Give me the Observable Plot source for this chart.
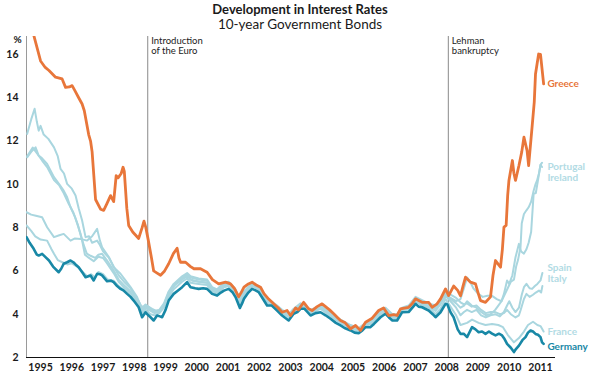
<!DOCTYPE html>
<html>
<head>
<meta charset="utf-8">
<script src="https://cdn.jsdelivr.net/npm/d3@7"></script>
<script src="https://cdn.jsdelivr.net/npm/@observablehq/plot@0.6"></script>
<style>
  html, body { margin: 0; padding: 0; background: #fff; }
  #wrap { width: 600px; font-family: Lato, "Open Sans", sans-serif; color: #1a1a1a; }
  #titles { height: 28px; position: relative; text-align: center; overflow: visible; }
  #title { position: absolute; left: 0; right: 0; top: 2px; font-size: 13px; font-weight: 700; line-height: 15px; }
  #subtitle { position: absolute; left: 0; right: 0; top: 17px; font-size: 13.5px; font-weight: 400; line-height: 14px; }
</style>
</head>
<body>
<div id="wrap">
  <div id="titles">
    <div id="title">Development in Interest Rates</div>
    <div id="subtitle">10-year Government Bonds</div>
  </div>
  <div id="chart"></div>
</div>
<script>
// ---- data (decimal year, percent) ----
const greece = [[1995.28,16.9],[1995.50,15.7],[1995.65,15.4],[1995.77,15.26],[1995.98,14.95],[1996.19,14.87],[1996.30,14.48],[1996.42,14.5],[1996.51,14.56],[1996.59,14.35],[1996.72,14.0],[1996.83,13.71],[1996.90,13.4],[1997.04,12.3],[1997.10,12.0],[1997.15,11.5],[1997.26,9.3],[1997.42,8.85],[1997.52,8.8],[1997.62,9.1],[1997.74,9.48],[1997.84,9.2],[1997.92,10.4],[1997.98,10.3],[1998.08,10.5],[1998.14,10.79],[1998.18,10.6],[1998.26,8.9],[1998.32,8.1],[1998.45,7.8],[1998.64,7.5],[1998.75,8.0],[1998.81,8.3],[1998.87,8.0],[1998.95,7.4],[1999.05,6.6],[1999.12,6.0],[1999.23,5.9],[1999.34,5.8],[1999.47,6.0],[1999.60,6.33],[1999.75,6.8],[1999.87,7.05],[1999.93,6.6],[1999.98,6.4],[2000.14,6.4],[2000.30,6.2],[2000.41,6.1],[2000.62,6.1],[2000.75,6.0],[2000.83,5.94],[2001.0,5.6],[2001.20,5.40],[2001.42,5.48],[2001.58,5.40],[2001.70,5.2],[2001.84,4.8],[2001.92,5.0],[2002.01,5.25],[2002.15,5.4],[2002.27,5.48],[2002.40,5.35],[2002.54,5.25],[2002.65,4.95],[2002.80,4.7],[2002.96,4.48],[2003.10,4.3],[2003.23,4.09],[2003.39,4.17],[2003.50,3.94],[2003.60,4.15],[2003.66,4.29],[2003.75,4.2],[2003.92,4.55],[2004.08,4.25],[2004.19,4.17],[2004.35,4.35],[2004.51,4.48],[2004.62,4.35],[2004.75,4.2],[2004.89,4.01],[2005.0,3.85],[2005.10,3.71],[2005.25,3.6],[2005.42,3.33],[2005.58,3.48],[2005.74,3.25],[2005.90,3.63],[2006.10,3.8],[2006.32,4.17],[2006.48,4.29],[2006.64,3.94],[2006.80,3.98],[2006.91,3.94],[2007.02,4.25],[2007.28,4.32],[2007.40,4.5],[2007.50,4.71],[2007.71,4.55],[2007.92,4.55],[2008.03,4.32],[2008.19,4.48],[2008.30,4.71],[2008.46,5.17],[2008.56,4.86],[2008.72,5.30],[2008.85,5.1],[2008.94,4.85],[2009.02,5.3],[2009.10,5.71],[2009.26,5.48],[2009.42,5.40],[2009.50,5.0],[2009.58,4.63],[2009.74,4.55],[2009.90,4.8],[2009.98,5.8],[2010.06,6.48],[2010.15,6.3],[2010.22,6.17],[2010.28,7.0],[2010.33,8.02],[2010.40,8.1],[2010.45,9.5],[2010.49,10.18],[2010.60,11.1],[2010.65,10.5],[2010.70,10.18],[2010.81,10.87],[2010.90,11.5],[2010.97,12.18],[2011.07,11.56],[2011.12,10.87],[2011.23,12.64],[2011.30,13.8],[2011.34,15.1],[2011.44,16.02],[2011.50,16.0],[2011.60,14.64]];

const germany = [[1995.05,7.56],[1995.15,7.3],[1995.28,7.02],[1995.38,6.75],[1995.44,6.71],[1995.55,6.79],[1995.65,6.65],[1995.77,6.48],[1995.90,6.2],[1996.08,5.94],[1996.16,6.1],[1996.24,6.33],[1996.35,6.4],[1996.46,6.48],[1996.55,6.4],[1996.62,6.3],[1996.72,6.17],[1996.85,5.9],[1996.94,5.71],[1997.10,5.79],[1997.20,5.56],[1997.31,5.87],[1997.40,5.85],[1997.47,5.79],[1997.63,5.52],[1997.75,5.55],[1997.84,5.48],[1997.95,5.3],[1998.06,5.17],[1998.15,5.1],[1998.27,4.94],[1998.38,4.8],[1998.48,4.63],[1998.64,4.32],[1998.75,3.86],[1998.86,4.09],[1998.95,3.95],[1999.02,3.86],[1999.12,3.71],[1999.23,3.94],[1999.32,3.9],[1999.39,3.86],[1999.50,4.2],[1999.60,4.63],[1999.76,4.94],[1999.90,5.1],[2000.03,5.25],[2000.19,5.48],[2000.30,5.25],[2000.45,5.2],[2000.56,5.17],[2000.70,5.2],[2000.83,5.17],[2000.99,4.94],[2001.15,4.86],[2001.27,5.0],[2001.37,5.09],[2001.52,5.17],[2001.65,5.0],[2001.74,4.79],[2001.88,4.29],[2001.95,4.5],[2002.01,4.71],[2002.15,5.0],[2002.27,5.17],[2002.38,5.1],[2002.48,5.02],[2002.60,4.75],[2002.75,4.40],[2002.90,4.4],[2003.07,4.17],[2003.23,3.94],[2003.44,3.71],[2003.60,4.02],[2003.72,4.1],[2003.82,4.25],[2003.95,4.25],[2004.14,3.94],[2004.30,4.05],[2004.46,4.09],[2004.62,3.95],[2004.78,3.79],[2004.95,3.6],[2005.10,3.48],[2005.25,3.35],[2005.42,3.25],[2005.55,3.15],[2005.68,3.12],[2005.80,3.25],[2005.90,3.40],[2006.05,3.4],[2006.17,3.55],[2006.38,3.86],[2006.54,4.02],[2006.65,3.85],[2006.76,3.71],[2006.91,3.71],[2007.07,4.09],[2007.28,4.1],[2007.40,4.3],[2007.50,4.48],[2007.60,4.35],[2007.71,4.32],[2007.92,4.17],[2008.05,4.0],[2008.14,3.86],[2008.30,4.09],[2008.46,4.48],[2008.52,4.45],[2008.62,4.09],[2008.72,3.86],[2008.85,3.3],[2008.94,3.09],[2009.04,3.1],[2009.15,2.94],[2009.31,3.40],[2009.42,3.3],[2009.52,3.17],[2009.63,3.2],[2009.74,3.09],[2009.85,3.2],[2009.95,3.1],[2010.06,3.02],[2010.17,3.1],[2010.27,3.02],[2010.35,2.85],[2010.43,2.63],[2010.55,2.45],[2010.65,2.25],[2010.72,2.4],[2010.81,2.55],[2010.92,2.8],[2011.02,2.94],[2011.10,3.15],[2011.18,3.25],[2011.26,3.2],[2011.34,3.09],[2011.42,3.05],[2011.50,2.94],[2011.55,2.7],[2011.60,2.63]];

const france = [[1995.05,8.10],[1995.20,7.85],[1995.33,7.6],[1995.50,7.45],[1995.71,7.40],[1995.85,7.0],[1995.93,6.79],[1996.05,6.5],[1996.20,6.4],[1996.35,6.3],[1996.50,6.35],[1996.67,6.2],[1996.85,5.95],[1996.99,5.75],[1997.12,5.85],[1997.25,5.7],[1997.35,5.95],[1997.50,5.85],[1997.65,5.6],[1997.84,5.55],[1998.0,5.3],[1998.15,5.15],[1998.30,5.0],[1998.48,4.8],[1998.64,4.5],[1998.75,4.05],[1998.86,4.2],[1999.02,4.0],[1999.15,3.95],[1999.30,4.05],[1999.45,4.3],[1999.60,4.8],[1999.76,5.15],[2000.03,5.5],[2000.19,5.65],[2000.30,5.45],[2000.56,5.4],[2000.83,5.35],[2000.99,5.05],[2001.15,4.95],[2001.37,5.25],[2001.52,5.3],[2001.74,4.95],[2001.88,4.45],[2002.01,4.85],[2002.27,5.3],[2002.48,5.15],[2002.75,4.55],[2003.07,4.25],[2003.23,4.05],[2003.44,3.85],[2003.60,4.1],[2003.82,4.35],[2004.14,4.05],[2004.46,4.25],[2004.78,3.9],[2005.10,3.6],[2005.42,3.35],[2005.68,3.2],[2005.90,3.45],[2006.17,3.6],[2006.38,3.95],[2006.54,4.1],[2006.76,3.8],[2006.91,3.8],[2007.07,4.15],[2007.28,4.2],[2007.50,4.6],[2007.71,4.4],[2007.92,4.3],[2008.14,4.0],[2008.30,4.25],[2008.46,4.7],[2008.62,4.35],[2008.80,3.95],[2008.94,3.5],[2009.15,3.6],[2009.31,3.75],[2009.52,3.6],[2009.74,3.5],[2009.95,3.55],[2010.15,3.5],[2010.30,3.4],[2010.45,3.05],[2010.65,2.7],[2010.81,2.9],[2010.97,3.2],[2011.10,3.5],[2011.26,3.65],[2011.40,3.5],[2011.50,3.45],[2011.60,3.2]];

const ireland = [[1995.05,8.71],[1995.20,8.6],[1995.35,8.55],[1995.55,8.48],[1995.71,8.02],[1995.93,7.56],[1996.10,7.65],[1996.24,7.71],[1996.46,7.40],[1996.60,7.5],[1996.78,7.48],[1996.99,7.40],[1997.15,7.6],[1997.31,7.94],[1997.40,7.4],[1997.47,7.09],[1997.69,6.63],[1997.84,6.17],[1998.06,5.87],[1998.20,5.6],[1998.38,5.25],[1998.59,4.79],[1998.70,4.4],[1998.80,4.32],[1998.90,4.4],[1999.07,4.25],[1999.20,4.15],[1999.35,4.2],[1999.50,4.55],[1999.65,5.05],[1999.80,5.35],[2000.03,5.6],[2000.19,5.75],[2000.35,5.55],[2000.60,5.5],[2000.83,5.45],[2000.99,5.1],[2001.15,5.0],[2001.37,5.3],[2001.52,5.35],[2001.74,5.0],[2001.88,4.5],[2002.01,4.95],[2002.27,5.35],[2002.48,5.2],[2002.75,4.6],[2003.07,4.3],[2003.23,4.1],[2003.44,3.9],[2003.60,4.15],[2003.82,4.4],[2004.14,4.1],[2004.46,4.3],[2004.78,3.95],[2005.10,3.65],[2005.42,3.35],[2005.68,3.25],[2005.90,3.5],[2006.17,3.65],[2006.38,4.0],[2006.54,4.15],[2006.76,3.85],[2006.91,3.85],[2007.07,4.2],[2007.28,4.25],[2007.50,4.65],[2007.71,4.5],[2007.92,4.4],[2008.14,4.25],[2008.30,4.55],[2008.46,4.95],[2008.62,4.75],[2008.80,4.6],[2008.94,4.7],[2009.05,5.2],[2009.15,5.7],[2009.25,5.5],[2009.35,5.2],[2009.50,4.95],[2009.65,4.8],[2009.80,4.85],[2009.95,4.85],[2010.10,4.7],[2010.25,4.6],[2010.35,4.9],[2010.45,5.2],[2010.55,5.5],[2010.65,5.6],[2010.72,6.2],[2010.78,6.5],[2010.86,7.1],[2010.90,8.2],[2010.97,8.63],[2011.05,8.8],[2011.12,8.94],[2011.20,9.2],[2011.28,9.7],[2011.34,10.0],[2011.39,10.18],[2011.45,10.5],[2011.50,10.9],[2011.55,11.0]];

const portugal = [[1995.07,11.25],[1995.20,11.5],[1995.34,11.71],[1995.44,11.33],[1995.55,11.2],[1995.71,10.94],[1995.93,10.33],[1996.10,10.0],[1996.24,9.71],[1996.35,9.4],[1996.46,8.94],[1996.60,8.5],[1996.78,7.71],[1996.88,7.2],[1996.98,6.8],[1997.10,6.7],[1997.25,6.6],[1997.35,6.75],[1997.47,6.79],[1997.63,6.48],[1997.84,6.02],[1998.0,5.6],[1998.20,5.3],[1998.35,5.1],[1998.48,4.75],[1998.64,4.5],[1998.75,4.2],[1998.86,4.35],[1999.02,4.2],[1999.15,4.1],[1999.30,4.15],[1999.45,4.45],[1999.60,5.0],[1999.76,5.35],[2000.03,5.7],[2000.19,5.85],[2000.30,5.7],[2000.56,5.6],[2000.83,5.55],[2000.99,5.2],[2001.15,5.1],[2001.37,5.4],[2001.52,5.45],[2001.74,5.1],[2001.88,4.65],[2002.01,5.0],[2002.27,5.4],[2002.48,5.25],[2002.75,4.7],[2003.07,4.35],[2003.23,4.15],[2003.44,3.95],[2003.60,4.2],[2003.82,4.45],[2004.14,4.15],[2004.46,4.35],[2004.78,4.0],[2005.10,3.7],[2005.42,3.45],[2005.68,3.3],[2005.90,3.55],[2006.17,3.7],[2006.38,4.1],[2006.54,4.2],[2006.76,3.9],[2006.91,3.9],[2007.07,4.25],[2007.28,4.3],[2007.50,4.7],[2007.71,4.55],[2007.92,4.45],[2008.14,4.3],[2008.30,4.6],[2008.46,5.0],[2008.62,4.7],[2008.80,4.5],[2008.94,4.3],[2009.05,4.4],[2009.15,4.6],[2009.30,4.4],[2009.45,4.3],[2009.60,4.1],[2009.75,3.95],[2009.90,4.0],[2010.05,4.2],[2010.15,4.4],[2010.25,4.6],[2010.33,4.94],[2010.43,5.56],[2010.50,5.4],[2010.60,5.8],[2010.70,6.63],[2010.81,7.25],[2010.88,6.9],[2010.97,6.8],[2011.05,7.0],[2011.12,7.3],[2011.20,7.8],[2011.28,9.56],[2011.35,9.6],[2011.42,10.2],[2011.50,10.9],[2011.55,10.8]];

const spain = [[1995.07,11.3],[1995.25,11.7],[1995.40,11.4],[1995.55,11.1],[1995.71,10.8],[1995.93,10.2],[1996.10,9.95],[1996.24,9.6],[1996.40,9.1],[1996.55,8.7],[1996.70,8.1],[1996.83,7.4],[1996.92,6.75],[1997.05,6.6],[1997.20,6.45],[1997.35,6.65],[1997.50,6.6],[1997.63,6.35],[1997.84,5.9],[1998.0,5.5],[1998.20,5.2],[1998.38,5.0],[1998.48,4.7],[1998.64,4.45],[1998.75,4.15],[1998.86,4.3],[1999.02,4.15],[1999.15,4.05],[1999.30,4.1],[1999.45,4.4],[1999.60,4.95],[1999.76,5.3],[2000.03,5.65],[2000.19,5.8],[2000.30,5.6],[2000.56,5.5],[2000.83,5.45],[2000.99,5.15],[2001.15,5.05],[2001.37,5.35],[2001.52,5.4],[2001.74,5.05],[2001.88,4.6],[2002.01,4.95],[2002.27,5.35],[2002.48,5.2],[2002.75,4.65],[2003.07,4.3],[2003.23,4.1],[2003.44,3.9],[2003.60,4.15],[2003.82,4.4],[2004.14,4.1],[2004.46,4.3],[2004.78,3.95],[2005.10,3.65],[2005.42,3.35],[2005.68,3.2],[2005.90,3.5],[2006.17,3.65],[2006.38,4.0],[2006.54,4.15],[2006.76,3.85],[2006.91,3.85],[2007.07,4.2],[2007.28,4.25],[2007.50,4.65],[2007.71,4.45],[2007.92,4.35],[2008.14,4.15],[2008.30,4.45],[2008.46,4.85],[2008.62,4.6],[2008.80,4.3],[2008.94,3.95],[2009.05,4.1],[2009.15,4.2],[2009.30,4.1],[2009.45,4.2],[2009.60,3.95],[2009.75,3.85],[2009.90,3.95],[2010.05,4.0],[2010.20,3.9],[2010.33,4.1],[2010.43,4.4],[2010.50,4.6],[2010.60,4.3],[2010.70,4.1],[2010.81,4.3],[2010.90,4.9],[2010.97,5.25],[2011.05,5.4],[2011.15,5.2],[2011.23,5.17],[2011.32,5.3],[2011.40,5.4],[2011.50,5.56],[2011.56,5.9]];

const italy = [[1995.07,12.33],[1995.20,13.0],[1995.31,13.49],[1995.38,12.9],[1995.44,12.48],[1995.50,12.7],[1995.60,12.3],[1995.75,12.1],[1995.93,11.71],[1996.05,11.3],[1996.14,10.71],[1996.25,10.5],[1996.35,10.02],[1996.50,9.8],[1996.62,9.48],[1996.72,8.9],[1996.83,8.33],[1996.94,7.56],[1997.05,7.6],[1997.15,7.3],[1997.31,7.4],[1997.40,7.2],[1997.50,6.9],[1997.69,6.6],[1997.84,6.2],[1998.0,5.8],[1998.20,5.45],[1998.38,5.2],[1998.50,4.85],[1998.64,4.6],[1998.75,4.3],[1998.86,4.45],[1999.02,4.25],[1999.15,4.15],[1999.30,4.2],[1999.45,4.5],[1999.60,5.05],[1999.76,5.4],[2000.03,5.75],[2000.19,5.9],[2000.30,5.75],[2000.56,5.65],[2000.83,5.6],[2000.99,5.25],[2001.15,5.15],[2001.37,5.45],[2001.52,5.5],[2001.74,5.15],[2001.88,4.7],[2002.01,5.05],[2002.27,5.45],[2002.48,5.3],[2002.75,4.75],[2003.07,4.4],[2003.23,4.2],[2003.44,4.0],[2003.60,4.25],[2003.82,4.5],[2004.14,4.2],[2004.46,4.4],[2004.78,4.05],[2005.10,3.75],[2005.42,3.5],[2005.68,3.35],[2005.90,3.6],[2006.17,3.8],[2006.38,4.2],[2006.54,4.3],[2006.76,4.0],[2006.91,4.0],[2007.07,4.3],[2007.28,4.4],[2007.50,4.8],[2007.71,4.65],[2007.92,4.5],[2008.14,4.4],[2008.30,4.7],[2008.46,5.05],[2008.62,4.9],[2008.80,4.75],[2008.94,4.55],[2009.05,4.45],[2009.15,4.5],[2009.30,4.35],[2009.45,4.4],[2009.60,4.2],[2009.75,4.05],[2009.90,4.1],[2010.05,4.1],[2010.20,4.0],[2010.33,4.05],[2010.43,4.2],[2010.55,4.0],[2010.70,3.85],[2010.81,3.95],[2010.86,4.17],[2010.97,4.7],[2011.05,4.94],[2011.15,4.8],[2011.26,4.9],[2011.35,5.0],[2011.45,5.09],[2011.52,5.0],[2011.56,5.3]];

const yearLabels = [1995,1996,1997,1998,1999,2000,2001,2002,2003,2004,2005,2006,2007,2008,2009,2010,2011];
const yTicks = [2,4,6,8,10,12,14,16];

const events = [
  {t: 1998.93, text: "Introduction\nof the Euro"},
  {t: 2008.55, text: "Lehman\nbankruptcy"}
];

const endLabels = [
  {text: "Greece", v: 14.67, group: "greece"},
  {text: "Portugal\nIreland", v: 10.58, group: "periphery"},
  {text: "Spain\nItaly", v: 5.90, group: "periphery"},
  {text: "France", v: 3.2, group: "periphery"},
  {text: "Germany", v: 2.52, group: "germany"}
];

// ---- styling ----
const ORANGE = "#e8763a";
const TEAL = "#1888a6";
const LIGHT = "#a9d6df";
const LIGHT_LABEL = "#b2dbe4";
const labelColor = {greece: ORANGE, periphery: LIGHT_LABEL, germany: TEAL};

const X0 = 1995.05, X1 = 2011.98, Y0 = 2, Y1 = 16.83;
const px = d => d[0], py = d => d[1];

const lightLine = data => Plot.line(data, {x: px, y: py, stroke: LIGHT, strokeWidth: 2, strokeLinejoin: "round", strokeLinecap: "round", clip: true});

const chart = Plot.plot({
  width: 600,
  height: 359,
  marginTop: 8,
  marginBottom: 30,
  marginLeft: 26,
  marginRight: 45,
  x: {domain: [X0, X1]},
  y: {domain: [Y0, Y1]},
  style: {fontFamily: "Lato, 'Open Sans', sans-serif", background: "transparent", color: "#1a1a1a"},
  marks: [
    Plot.ruleX([X0], {y1: Y0, y2: Y1, stroke: "#9a9a9a", strokeWidth: 1}),
    Plot.ruleX(events, {x: "t", y1: Y0, y2: Y1, stroke: "#8a8a8a", strokeWidth: 1}),
    Plot.text(events, {x: "t", y: Y1, text: "text", textAnchor: "start", lineAnchor: "top", dx: 3.5, dy: 0, fontSize: 9.5, lineHeight: 1.08, fill: "#222"}),
    lightLine(france),
    lightLine(ireland),
    lightLine(spain),
    lightLine(portugal),
    lightLine(italy),
    Plot.line(germany, {x: px, y: py, stroke: TEAL, strokeWidth: 2.6, strokeLinejoin: "round", strokeLinecap: "round", clip: true}),
    Plot.line(greece, {x: px, y: py, stroke: ORANGE, strokeWidth: 2.8, strokeLinejoin: "round", strokeLinecap: "round", clip: true}),
    Plot.ruleY([Y0], {x1: X0, x2: X1, stroke: "#111", strokeWidth: 1.2}),
    Plot.axisY({ticks: yTicks, tickSize: 0, tickPadding: 8, fontSize: 10.5, fontWeight: "bold", label: null, fill: "#1a1a1a"}),
    Plot.axisX({ticks: yearLabels.map(y => y + 0.5), tickFormat: d => String(Math.floor(d)), tickSize: 0, tickPadding: 6, fontSize: 10.5, fontWeight: "bold", label: null, fill: "#1a1a1a"}),
    Plot.text(["%"], {frameAnchor: "top-left", dx: -13, dy: -1, text: d => d, fontSize: 10, fontWeight: "bold", fill: "#1a1a1a"}),
    Plot.text(endLabels, {x: 2011.72, y: "v", text: "text", textAnchor: "start", fontSize: 10, fontWeight: "bold", lineHeight: 1.1, fill: d => labelColor[d.group]})
  ]
});
document.getElementById("chart").appendChild(chart);
</script>
</body>
</html>
